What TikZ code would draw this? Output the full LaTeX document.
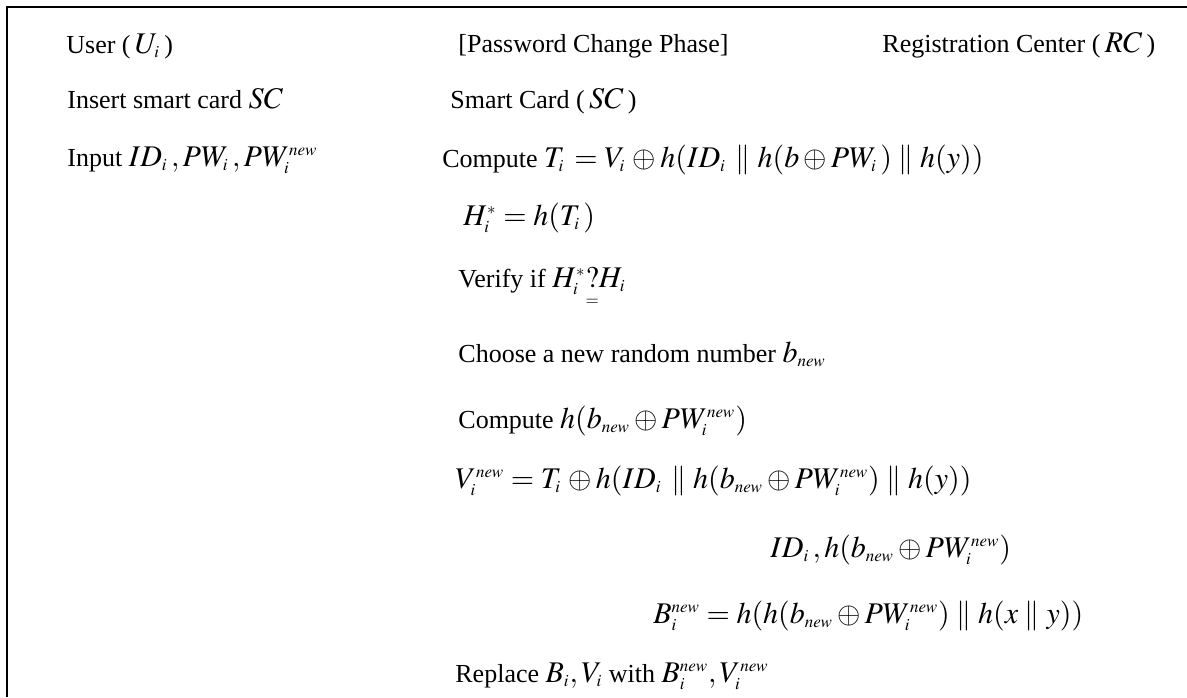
\documentclass[tikz,border=0pt]{standalone}
\usepackage{amsmath}
\usepackage{mathptmx}
\usepackage{fontspec}
\setmainfont{Liberation Serif}
\DeclareMathSizes{15}{15}{8.5}{6.5}
\newcommand\mth[1]{{\fontsize{15}{17}\selectfont$#1$}}

\begin{document}
\begin{tikzpicture}[
 x=0.5pt,y=-0.5pt,
 every node/.style={inner sep=0pt,anchor=base west,font=\fontsize{13}{15}\selectfont},
 frame/.style={line width=1pt}]
\useasboundingbox (0,0) rectangle (1187,697);
\draw[frame] (1187,7) -- (7,7) -- (7,697);
% headings
\node (user) at (66,53) {User (\,\mth{U_i}\,)};
\node (phase) at (458,52) {[Password Change Phase]};
\node (rc) at (882,52) {Registration Center (\,\mth{RC}\,)};
% user side
\node (insert) at (67,108) {Insert smart card \mth{SC}};
\node (input) at (67,166) {Input \mth{ID_i\,, PW_i\,, PW_i^{new}}};
% smart card side
\node (sc) at (450,108) {Smart Card (\,\mth{SC}\,)};
\node (ti) at (442,167) {Compute \mth{T_i\, = V_i\, \oplus h(ID_i\, \parallel h(b \oplus PW_i\,) \parallel h(y))}};
\node (hstar) at (463,225) {\mth{H_i^{*} = h(T_i\,)}};
\node (verify) at (458,287) {Verify if \mth{H_i^{*} \underset{=}{?} H_i}};
\node (bnew) at (458,362) {Choose a new random number \mth{b_{new}}};
\node (hb) at (458,428) {Compute \mth{h(b_{new} \oplus PW_i^{new})}};
\node (vnew) at (455,488) {\mth{V_i^{new} = T_i\, \oplus h(ID_i\, \parallel h(b_{new} \oplus PW_i^{new}) \parallel h(y))}};
% towards RC
\node (msg) at (770,557) {\mth{ID_i\,, h(b_{new} \oplus PW_i^{new})}};
\node (brc) at (653,623) {\mth{B_i^{new} = h(h(b_{new} \oplus PW_i^{new}) \parallel h(x \parallel y))}};
\node (replace) at (455,682) {Replace \mth{B_i, V_i} with \mth{B_i^{new}, V_i^{new}}};
\end{tikzpicture}
\end{document}
